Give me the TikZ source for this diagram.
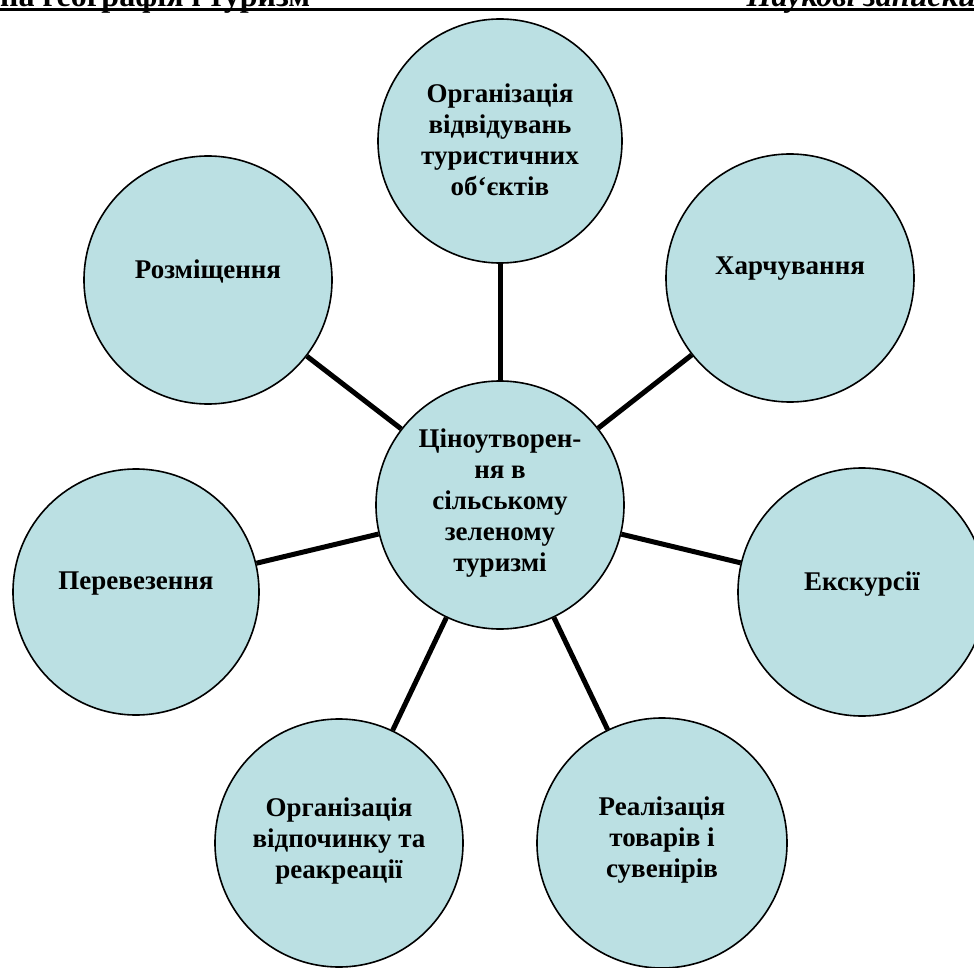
\documentclass[tikz,border=0pt]{standalone}
\usepackage{fontspec}
\setmainfont{Liberation Serif}
\definecolor{fillc}{RGB}{187,224,227}
\begin{document}
\begin{tikzpicture}[x=1pt,y=-1pt,
  circ/.style={circle,draw=black,line width=1.6pt,fill=fillc,inner sep=0pt},
  txt/.style={font=\fontsize{27}{31}\selectfont\bfseries,align=center,inner sep=0pt},
  conn/.style={line width=5pt},
  hdr/.style={inner sep=0pt,font=\fontsize{32}{32}\selectfont\bfseries}]
\useasboundingbox (0,0) rectangle (974,968);
\clip (0,0) rectangle (974,968);
% header
\node[hdr,anchor=base west] (hl) at (0,6.5) {на географія і туризм};
\node[hdr,anchor=base east,font=\fontsize{32}{32}\selectfont\bfseries\itshape] (hr) at (976,6.5) {Наукові записки};
\coordinate (ha) at (0,9.5);
\coordinate (hb) at (974,9.5);
\draw[line width=3.2pt] (ha) -- (hb);
% circles
\node[circ,minimum size=248pt] (c) at (500,505) {};
\node[circ,minimum size=244pt] (t) at (500,141) {};
\node[circ,minimum size=248pt] (rz) at (208,280) {};
\node[circ,minimum size=248pt] (hc) at (790,278) {};
\node[circ,minimum size=248pt] (ek) at (862,592) {};
\node[circ,minimum size=246pt] (pv) at (136,592) {};
\node[circ,minimum size=248pt] (vd) at (339,843) {};
\node[circ,minimum size=250pt] (rl) at (662,843) {};
% connectors
\draw[conn] (c) -- (t);
\draw[conn] (c) -- (rz);
\draw[conn] (c) -- (hc);
\draw[conn] (c) -- (ek);
\draw[conn] (c) -- (pv);
\draw[conn] (c) -- (vd);
\draw[conn] (c) -- (rl);
% texts
\node[txt] (tc) at ([yshift=2pt]c.center) {Ціноутворен-\\ня в\\сільському\\зеленому\\туризмі};
\node[txt] (tt) at ([yshift=1pt]t.center) {Організація\\відвідувань\\туристичних\\об\symbol{"60}єктів};
\node[txt] (trz) at ([yshift=9pt]rz.center) {Розміщення};
\node[txt] (thc) at ([yshift=9pt]hc.center) {Харчування};
\node[txt] (tek) at ([yshift=8pt]ek.center) {Екскурсії};
\node[txt] (tpv) at ([yshift=8pt]pv.center) {Перевезення};
\node[txt] (tvd) at ([yshift=2pt]vd.center) {Організація\\відпочинку та\\реакреації};
\node[txt] (trl) at ([yshift=3pt]rl.center) {Реалізація\\товарів і\\сувенірів};
\end{tikzpicture}
\end{document}
